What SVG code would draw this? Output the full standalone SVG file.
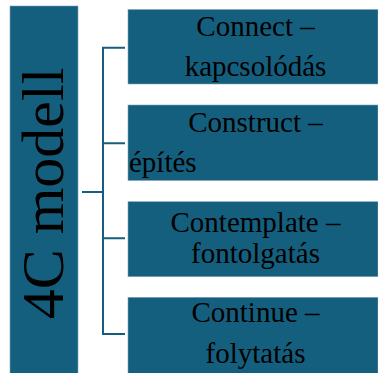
<svg xmlns="http://www.w3.org/2000/svg" width="378" height="373" viewBox="0 0 378 373">
<style>
.box{fill:#155F7E;stroke:#7FA6BA;stroke-width:0.6}
.t{font-family:"Liberation Serif","Times New Roman",serif;font-size:29px;fill:#000;text-anchor:middle}
.big{font-family:"Liberation Serif","Times New Roman",serif;font-size:60px;fill:#000;text-anchor:middle}
.c{fill:none;stroke:#155F7E;stroke-width:2}
</style>
<rect width="378" height="373" fill="#fff"/>
<g id="connectors">
<path class="c" d="M82 192H103M125 47.7H103V334H125M103 143.3H125M103 238.3H125"/>
</g>
<g id="root">
<rect class="box" x="10" y="6" width="68" height="368"/>
<text class="big" transform="translate(63,193.5) rotate(-90)">4C modell</text>
</g>
<g id="n1">
<rect class="box" x="128" y="9.5" width="250" height="74.5"/>
<text class="t" x="255.5" y="36">Connect –</text>
<text class="t" x="255.5" y="76">kapcsolódás</text>
</g>
<g id="n2">
<rect class="box" x="128" y="105" width="250" height="75.5"/>
<text class="t" x="255.5" y="132">Construct –</text>
<text class="t" x="129" y="172" style="text-anchor:start">építés</text>
</g>
<g id="n3">
<rect class="box" x="128" y="201.7" width="250" height="75"/>
<text class="t" x="255.5" y="232">Contemplate –</text>
<text class="t" x="255.5" y="263">fontolgatás</text>
</g>
<g id="n4">
<rect class="box" x="128" y="297.3" width="250" height="76"/>
<text class="t" x="255.5" y="322">Continue –</text>
<text class="t" x="255.5" y="363">folytatás</text>
</g>
</svg>
